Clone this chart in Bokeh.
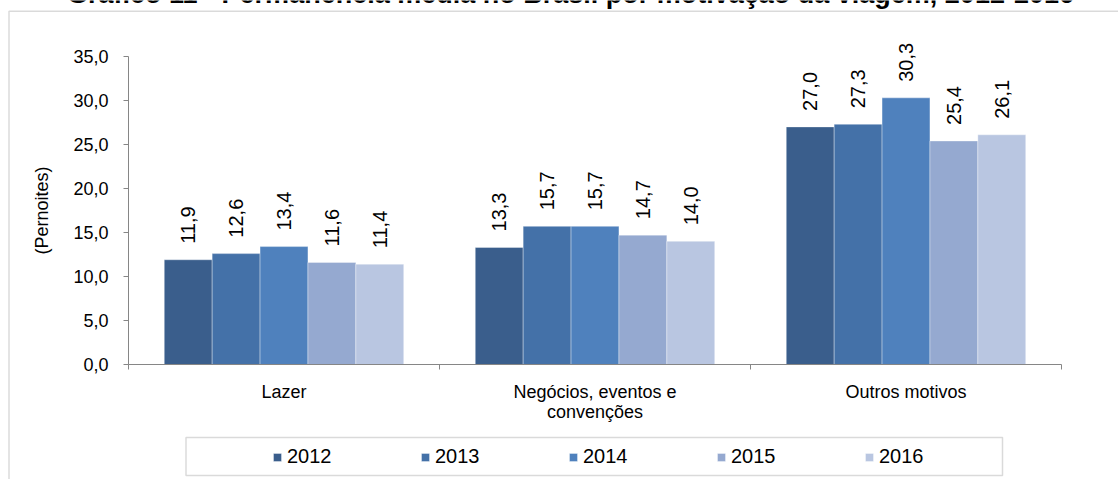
import math
from bokeh.plotting import figure
from bokeh.models import (Range1d, FixedTicker, LabelSet, ColumnDataSource, Legend,
                          LegendItem, BoxAnnotation, Label)
from bokeh.core.properties import value
from bokeh.embed import file_html
from bokeh.resources import INLINE

# ---------------- data ----------------
title_text = "Gráfico 11 - Permanência média no Brasil por motivação da viagem, 2012-2016"
categories = ["Lazer", "Negócios, eventos e\nconvenções", "Outros motivos"]
years = ["2012", "2013", "2014", "2015", "2016"]
v2012 = [11.9, 13.3, 27.0]
v2013 = [12.6, 15.7, 27.3]
v2014 = [13.4, 15.7, 30.3]
v2015 = [11.6, 14.7, 25.4]
v2016 = [11.4, 14.0, 26.1]
y_ticks = [0, 5, 10, 15, 20, 25, 30, 35]
y_tick_labels = ["0,0", "5,0", "10,0", "15,0", "20,0", "25,0", "30,0", "35,0"]
y_axis_title = "(Pernoites)"

series = [v2012, v2013, v2014, v2015, v2016]
colors = ["#3A5E8C", "#4471A8", "#4F81BD", "#95A9D0", "#B9C6E1"]

# ---------------- layout constants (canvas px) ----------------
W, H = 1118, 479
AX_L, AX_R, AX_T, AX_B = 128, 1061, 56, 364   # pixel box of the value axes
FONT = "Liberation Sans"
GRAY = "#868686"
NCAT = len(categories)
YMAX = y_ticks[-1]


def dx(px):
    return (px - AX_L) / (AX_R - AX_L) * NCAT


def dy(py):
    return (AX_B - py) / (AX_B - AX_T) * YMAX


p = figure(width=W, height=H, x_range=Range1d(dx(0), dx(W)), y_range=Range1d(dy(H), dy(0)),
           output_backend="svg", toolbar_location=None,
           min_border_left=0, min_border_right=0, min_border_top=0, min_border_bottom=0)
p.outline_line_color = None
p.xgrid.visible = False
p.ygrid.visible = False
p.background_fill_color = "white"
p.border_fill_color = "white"

bw = 0.154
items = []
for i, (yr, vals, col) in enumerate(zip(years, series, colors)):
    off = (i - 2) * bw
    src = ColumnDataSource(dict(
        x=[c + 0.5 + off for c in range(NCAT)],
        top=vals,
        label=[f"{v:.1f}".replace(".", ",") for v in vals],
    ))
    r = p.vbar(x="x", top="top", bottom=0, width=bw, source=src, fill_color=col,
               line_color="white", line_alpha=0.35, line_width=1)
    items.append(LegendItem(label=yr, renderers=[r]))
    p.add_layout(LabelSet(x="x", y="top", text="label", source=src, angle=math.pi / 2,
                          text_align="left", text_baseline="middle", y_offset=16,
                          text_font=value(FONT), text_font_size="20px", text_color="black"))

# y axis (drawn at x = 0)
ya = p.yaxis[0]
ya.fixed_location = 0
ya.bounds = (0, YMAX)
ya.ticker = FixedTicker(ticks=y_ticks)
ya.major_label_overrides = {t: l for t, l in zip(y_ticks, y_tick_labels)}
ya.minor_tick_line_color = None
ya.major_tick_in = 0
ya.major_tick_out = 5
ya.axis_line_color = GRAY
ya.major_tick_line_color = GRAY
ya.major_label_text_font = FONT
ya.major_label_text_font_size = "18px"
ya.major_label_text_color = "black"
ya.major_label_standoff = 15
ya.axis_label = y_axis_title
ya.axis_label_text_font = FONT
ya.axis_label_text_font_size = "18px"
ya.axis_label_text_font_style = "normal"
ya.axis_label_text_color = "black"
ya.axis_label_standoff = 18

# x axis (drawn at y = 0, ticks at category boundaries)
xa = p.xaxis[0]
xa.fixed_location = 0
xa.bounds = (0, NCAT)
xa.ticker = FixedTicker(ticks=list(range(NCAT + 1)))
xa.major_label_overrides = {t: "" for t in range(NCAT + 1)}
xa.minor_tick_line_color = None
xa.major_tick_in = 0
xa.major_tick_out = 5
xa.axis_line_color = GRAY
xa.major_tick_line_color = GRAY

# category labels, one row per text line so that each line is centred
LINE_H = 20.5
cx, cy, ct = [], [], []
for c, name in enumerate(categories):
    for j, line in enumerate(name.split("\n")):
        cx.append(c + 0.5)
        cy.append(dy(381 + j * LINE_H))
        ct.append(line)
cat_src = ColumnDataSource(dict(x=cx, y=cy, text=ct))
p.add_layout(LabelSet(x="x", y="y", text="text", source=cat_src, text_align="center",
                      text_baseline="top", text_font=value(FONT), text_font_size="18px",
                      text_color="black"))

# outer chart frame and legend box
p.add_layout(BoxAnnotation(left=dx(8.5), right=dx(W + 50), top=dy(10.7), bottom=dy(H + 50),
                           fill_alpha=0, line_color=GRAY, line_width=1.5))
p.add_layout(BoxAnnotation(left=dx(185.5), right=dx(1002), top=dy(437), bottom=dy(475),
                           fill_alpha=0, line_color=GRAY, line_width=1.5))

legend = Legend(items=items, orientation="horizontal", location=(272, 11), padding=0,
                spacing=0, margin=0, label_width=133, glyph_width=10, glyph_height=10,
                label_standoff=5, border_line_alpha=0, background_fill_alpha=0,
                label_text_font=FONT, label_text_font_size="20px", label_text_color="black")
p.add_layout(legend)

p.add_layout(Label(x=dx(570), y=dy(-7), text=title_text, text_align="center",
                   text_baseline="alphabetic", text_font=FONT, text_font_style="bold",
                   text_font_size="27px", text_color="black"))

open("out.html", "w").write(file_html(p, INLINE))
